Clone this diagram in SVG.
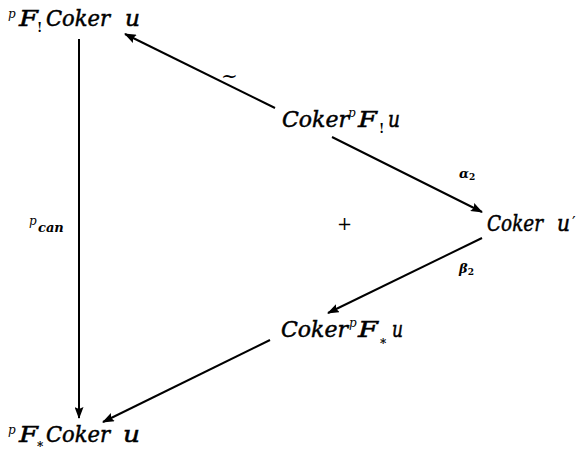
<svg xmlns="http://www.w3.org/2000/svg" width="587" height="454" viewBox="0 0 587 454">
<style>
text{font-family:'DejaVu Serif','Liberation Serif',serif;fill:#000}
.m{font-style:italic;font-size:22px;stroke:#000;stroke-width:0.5}
.sup{font-style:italic;font-size:12px;stroke:none}
.sub{font-size:12px;font-weight:bold;font-style:normal;stroke:none}
.lab{font-style:italic;font-weight:bold;font-size:13px}
.e{stroke:#000;stroke-width:2;fill:none;marker-end:url(#ah)}
</style>
<defs>
<marker id="ah" markerUnits="userSpaceOnUse" markerWidth="12" markerHeight="9" refX="11" refY="4.5" orient="auto">
<path d="M0,0 L12,4.5 L0,9 L2,4.5 z" fill="#000"/>
</marker>
</defs>
<rect width="587" height="454" fill="#fff"/>
<g id="connectors">
<line class="e" x1="275" y1="108" x2="125" y2="34"/>
<line class="e" x1="332" y1="137" x2="482" y2="212"/>
<line class="e" x1="482" y1="238" x2="328" y2="313"/>
<line class="e" x1="270" y1="340" x2="103" y2="422"/>
<line class="e" x1="79" y1="39" x2="79" y2="418"/>
<text x="221" y="83" font-size="20">~</text>
<text class="lab" x="459" y="178">α<tspan font-size="9" dy="2" font-style="normal">2</tspan></text>
<text class="lab" x="459" y="273">β<tspan font-size="9" dy="2" font-style="normal">2</tspan></text>
<text class="sup" x="29" y="225" font-size="10">p</text>
<text class="lab" x="38" y="232" font-size="12">can</text>
</g>
<text id="plus" x="337" y="230" font-size="18">+</text>
<g id="n1">
<text class="sup" x="8" y="18">p</text>
<text class="m" x="19" y="26" textLength="19" lengthAdjust="spacingAndGlyphs">F</text>
<text class="sub" x="37" y="32" font-size="11">!</text>
<text class="m" x="46" y="26" textLength="64" lengthAdjust="spacingAndGlyphs">Coker</text>
<text class="m" x="125" y="26" textLength="15" lengthAdjust="spacingAndGlyphs">u</text>
</g>
<g id="n2">
<text class="m" x="282" y="127" font-size="20">Coker</text>
<text class="sup" x="348" y="117">p</text>
<text class="m" x="358" y="127" textLength="19" lengthAdjust="spacingAndGlyphs">F</text>
<text class="sub" x="379" y="133" font-size="11">!</text>
<text class="m" x="388" y="127" textLength="12" lengthAdjust="spacingAndGlyphs">u</text>
</g>
<g id="n3">
<text class="m" x="487" y="231" textLength="56" lengthAdjust="spacingAndGlyphs">Coker</text>
<text class="m" x="557" y="231" textLength="13" lengthAdjust="spacingAndGlyphs">u</text>
<text x="572" y="228" font-size="16">′</text>
</g>
<g id="n4">
<text class="m" x="281" y="337" font-size="20">Coker</text>
<text class="sup" x="349" y="327">p</text>
<text class="m" x="358" y="337" textLength="20" lengthAdjust="spacingAndGlyphs">F</text>
<text class="sub" x="380" y="348">*</text>
<text class="m" x="392" y="337" textLength="11" lengthAdjust="spacingAndGlyphs">u</text>
</g>
<g id="n5">
<text class="sup" x="8" y="434">p</text>
<text class="m" x="19" y="442" textLength="19" lengthAdjust="spacingAndGlyphs">F</text>
<text class="sub" x="37" y="451">*</text>
<text class="m" x="46" y="442" textLength="64" lengthAdjust="spacingAndGlyphs">Coker</text>
<text class="m" x="123" y="442" textLength="17" lengthAdjust="spacingAndGlyphs">u</text>
</g>
</svg>
